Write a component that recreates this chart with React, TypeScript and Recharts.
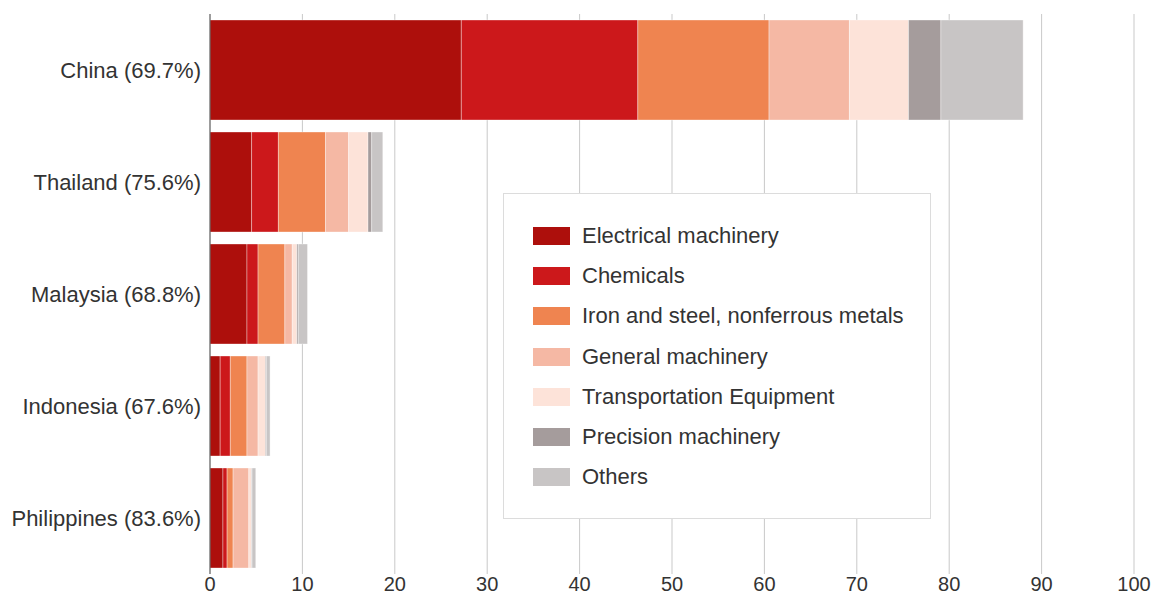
import React from "react";
import { BarChart, Bar, XAxis, YAxis, CartesianGrid, Legend } from "recharts";

const countries = [
  "China (69.7%)",
  "Thailand (75.6%)",
  "Malaysia (68.8%)",
  "Indonesia (67.6%)",
  "Philippines (83.6%)",
];

const electrical = [27.2, 4.5, 4.0, 1.1, 1.4];
const chemicals = [19.1, 2.9, 1.2, 1.1, 0.45];
const ironSteel = [14.2, 5.1, 2.9, 1.8, 0.65];
const general = [8.7, 2.5, 0.8, 1.2, 1.7];
const transport = [6.4, 2.1, 0.5, 0.8, 0.3];
const precision = [3.5, 0.4, 0.15, 0.1, 0.05];
const others = [8.9, 1.2, 1.0, 0.4, 0.4];

const xTicks = [0, 10, 20, 30, 40, 50, 60, 70, 80, 90, 100];

const series = [
  { key: "electrical", name: "Electrical machinery", color: "#ad0f0c", values: electrical },
  { key: "chemicals", name: "Chemicals", color: "#cc181b", values: chemicals },
  { key: "ironSteel", name: "Iron and steel, nonferrous metals", color: "#ef8450", values: ironSteel },
  { key: "general", name: "General machinery", color: "#f5b8a4", values: general },
  { key: "transport", name: "Transportation Equipment", color: "#fde3d9", values: transport },
  { key: "precision", name: "Precision machinery", color: "#a59c9c", values: precision },
  { key: "others", name: "Others", color: "#c8c5c5", values: others },
];

const data = countries.map((country, i) => {
  const row: Record<string, string | number> = { country };
  series.forEach((s) => {
    row[s.key] = s.values[i];
  });
  return row;
});

const FONT = '"Liberation Sans", Arial, sans-serif';

function LegendBox() {
  return (
    <div
      style={{
        width: 428,
        height: 326,
        border: "1px solid #dcdcdc",
        background: "#fff",
        boxSizing: "border-box",
        paddingTop: 22,
        paddingLeft: 29,
        fontFamily: FONT,
      }}
    >
      {series.map((s) => (
        <div key={s.key} style={{ display: "flex", alignItems: "center", height: 40.2 }}>
          <span style={{ width: 37, height: 18, background: s.color, display: "inline-block" }} />
          <span style={{ marginLeft: 12, fontSize: 22, color: "#333" }}>{s.name}</span>
        </div>
      ))}
    </div>
  );
}

export default function App() {
  return (
    <div style={{ position: "absolute", left: 0, top: 0, background: "#fff" }}>
      <BarChart
        width={1160}
        height={600}
        data={data}
        layout="vertical"
        margin={{ top: 14, right: 26, bottom: 0, left: 0 }}
        barCategoryGap={6}
      >
        <CartesianGrid horizontal={false} stroke="#c9c9c9" />
        <XAxis
          type="number"
          domain={[0, 100]}
          ticks={xTicks}
          axisLine={false}
          tickLine={false}
          tickSize={0}
          tickMargin={3}
          height={26}
          interval={0}
          tick={{ fill: "#333", fontSize: 20, fontFamily: FONT }}
        />
        <YAxis
          type="category"
          dataKey="country"
          width={210}
          axisLine={{ stroke: "#555" }}
          tickLine={false}
          tickSize={0}
          tickMargin={9}
          tick={{ fill: "#333", fontSize: 22, fontFamily: FONT }}
        />
        <Legend
          layout="vertical"
          align="center"
          verticalAlign="middle"
          content={() => <LegendBox />}
          wrapperStyle={{ left: 503, top: 193, width: 428, height: 326 }}
        />
        {series.map((s) => (
          <Bar
            key={s.key}
            dataKey={s.key}
            name={s.name}
            stackId="a"
            fill={s.color}
            stroke="#fff"
            strokeOpacity={0.35}
            isAnimationActive={false}
          />
        ))}
      </BarChart>
    </div>
  );
}
